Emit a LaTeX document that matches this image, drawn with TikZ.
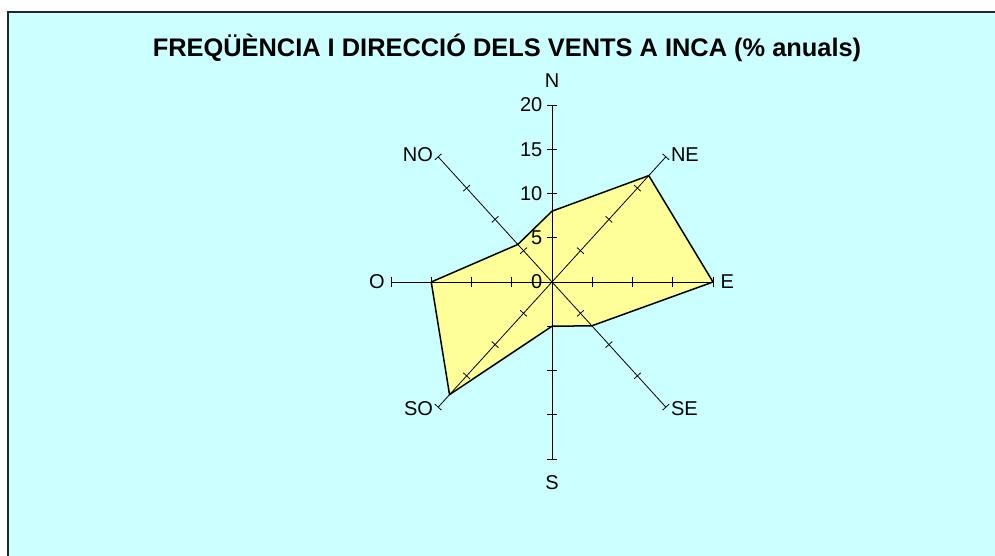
\documentclass[tikz,border=0pt]{standalone}
\usepackage{fontspec}
\setmainfont{Liberation Sans}
\usetikzlibrary{calc}
\definecolor{rosebg}{HTML}{CCFFFF}
\definecolor{rosefill}{HTML}{FFFF99}
\tikzset{
	lbl/.style={inner sep=0pt, font=\fontsize{20}{21}\selectfont},
	rosetick/.style={line width=0.8pt},
}

\begin{document}
\begin{tikzpicture}[x=1pt,y=1pt]
		\useasboundingbox (0,0) rectangle (995,556);
		% panel
		\fill[rosebg] (8,-5) rectangle (1000,544);
		\draw[line width=1.5pt, black!85] (8,-5) -- (8,544) -- (1000,544);
		\node[inner sep=0pt, anchor=base, font=\bfseries\fontsize{25.4}{27}\selectfont] (title) at (507,499.5) {FREQÜÈNCIA I DIRECCIÓ DELS VENTS A INCA (\% anuals)};
		\begin{scope}[shift={(552,274)}, x=8.05pt, y=8.85pt]
		% data (%)
		\coordinate (vN) at (90:8);
		\coordinate (vNE) at (45:17);
		\coordinate (vE) at (0:20);
		\coordinate (vSE) at (-45:7);
		\coordinate (vS) at (-90:5);
		\coordinate (vSO) at (-135:18);
		\coordinate (vO) at (180:15);
		\coordinate (vNO) at (135:6);
		\fill[rosefill] (vN) -- (vNE) -- (vE) -- (vSE) -- (vS) -- (vSO) -- (vO) -- (vNO) -- cycle;
		% axes
		\draw[rosetick] (180:20) -- (0:20);
		\draw[rosetick] (-90:20) -- (90:20);
		\draw[rosetick] (-135:20) -- (45:20);
		\draw[rosetick] (-45:20) -- (135:20);
		\foreach \r in {5,10,15,20} {
			\draw[rosetick] (\r,0) ++(0,-5pt) -- ++(0,10pt);
			\draw[rosetick] (-\r,0) ++(0,-5pt) -- ++(0,10pt);
			\draw[rosetick] (0,\r) ++(-5pt,0) -- ++(10pt,0);
			\draw[rosetick] (0,-\r) ++(-5pt,0) -- ++(10pt,0);
			\draw[rosetick] (45:\r) ++(137.7:4.5pt) -- ++(-42.3:9pt);
			\draw[rosetick] (-135:\r) ++(137.7:4.5pt) -- ++(-42.3:9pt);
			\draw[rosetick] (135:\r) ++(42.3:4.5pt) -- ++(222.3:9pt);
			\draw[rosetick] (-45:\r) ++(42.3:4.5pt) -- ++(222.3:9pt);
		}
		\draw[line width=1.5pt, line join=round] (vN) -- (vNE) -- (vE) -- (vSE) -- (vS) -- (vSO) -- (vO) -- (vNO) -- cycle;
		% scale
		\node[lbl, anchor=east, xshift=-9.5pt] (s0) at (0,0) {0};
		\node[lbl, anchor=east, xshift=-9.5pt] (s5) at (0,5) {5};
		\node[lbl, anchor=east, xshift=-9.5pt] (s10) at (0,10) {10};
		\node[lbl, anchor=east, xshift=-9.5pt] (s15) at (0,15) {15};
		\node[lbl, anchor=east, xshift=-9.5pt] (s20) at (0,20) {20};
		% directions
		\node[lbl, anchor=south, yshift=17pt] (lN) at (90:20) {N};
		\node[lbl, anchor=west, xshift=5pt, yshift=2pt] (lNE) at (45:20) {NE};
		\node[lbl, anchor=west, xshift=7.5pt] (lE) at (0:20) {E};
		\node[lbl, anchor=west, xshift=5pt, yshift=-1.5pt] (lSE) at (-45:20) {SE};
		\node[lbl, anchor=north, yshift=-16pt] (lS) at (-90:20) {S};
		\node[lbl, anchor=east, xshift=-5pt, yshift=-1.5pt] (lSO) at (-135:20) {SO};
		\node[lbl, anchor=east, xshift=-6pt] (lO) at (180:20) {O};
		\node[lbl, anchor=east, xshift=-5pt, yshift=2pt] (lNO) at (135:20) {NO};
		\end{scope}
	\end{tikzpicture}
\end{document}
